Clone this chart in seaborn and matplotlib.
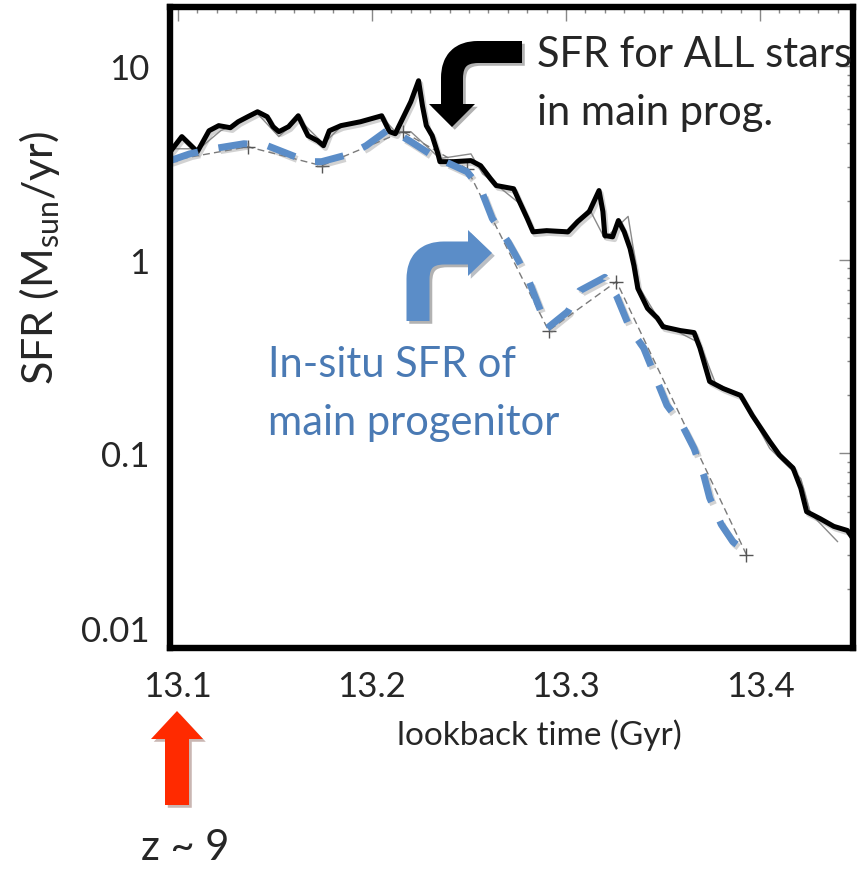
import numpy as np
import pandas as pd
import matplotlib
matplotlib.use("Agg")
import matplotlib.pyplot as plt
import seaborn as sns
from matplotlib import patheffects as pe
from matplotlib.path import Path
from matplotlib.patches import PathPatch, Polygon
from matplotlib.transforms import Affine2D
from matplotlib.ticker import FixedLocator, MultipleLocator, LogLocator, NullFormatter

# ---------------- data ----------------
t_all = [13.096, 13.102, 13.110, 13.116, 13.121, 13.127, 13.131, 13.136, 13.141, 13.146,
         13.149, 13.152, 13.157, 13.162, 13.164, 13.167, 13.172, 13.175, 13.178, 13.184,
         13.194, 13.205, 13.209, 13.212, 13.214, 13.220, 13.224, 13.226, 13.228, 13.231,
         13.234, 13.235, 13.242, 13.251, 13.256, 13.261, 13.264, 13.273, 13.276, 13.280,
         13.283, 13.290, 13.301, 13.306, 13.312, 13.317, 13.319, 13.320, 13.324, 13.327,
         13.330, 13.333, 13.335, 13.337, 13.342, 13.347, 13.350, 13.359, 13.366, 13.369,
         13.374, 13.381, 13.390, 13.396, 13.405, 13.410, 13.417, 13.421, 13.424, 13.431,
         13.438, 13.445, 13.449]
sfr_all = [3.60, 4.31, 3.60, 4.62, 4.91, 4.79, 5.14, 5.46, 5.79, 5.46,
           4.85, 4.57, 4.85, 5.52, 5.02, 4.36, 4.10, 3.87, 4.62, 4.91,
           5.14, 5.52, 4.57, 4.46, 4.91, 6.52, 8.37, 6.22, 4.91, 4.36,
           3.51, 3.20, 3.20, 3.24, 3.05, 2.62, 2.41, 2.32, 1.99, 1.63,
           1.39, 1.41, 1.39, 1.57, 1.77, 2.27, 1.77, 1.33, 1.31, 1.59,
           1.39, 1.14, 0.93, 0.71, 0.56, 0.50, 0.45, 0.43, 0.42, 0.35,
           0.235, 0.216, 0.199, 0.157, 0.115, 0.098, 0.084, 0.066, 0.050, 0.046,
           0.042, 0.040, 0.035]

t_all_raw = [13.096, 13.111, 13.122, 13.141, 13.152, 13.162, 13.175, 13.184, 13.205, 13.212,
             13.220, 13.235, 13.251, 13.257, 13.276, 13.283, 13.301, 13.312, 13.320, 13.332,
             13.338, 13.349, 13.369, 13.377, 13.390, 13.405, 13.421, 13.426, 13.440]
sfr_all_raw = [3.73, 3.73, 4.62, 5.66, 4.31, 5.33, 3.96, 4.85, 5.46, 4.57,
               4.57, 3.32, 3.51, 2.77, 1.95, 1.41, 1.36, 1.83, 1.28, 1.67,
               0.71, 0.47, 0.37, 0.23, 0.20, 0.106, 0.074, 0.049, 0.035]

t_insitu = [13.096, 13.106, 13.118, 13.134, 13.146, 13.159, 13.167, 13.174, 13.189, 13.197,
            13.209, 13.220, 13.232, 13.249, 13.256, 13.262, 13.270, 13.275, 13.281, 13.287,
            13.290, 13.301, 13.307, 13.320, 13.326, 13.333, 13.340, 13.347, 13.352, 13.360,
            13.366, 13.371, 13.374, 13.380, 13.386, 13.393]
sfr_insitu = [3.24, 3.51, 3.73, 3.96, 3.87, 3.44, 3.20, 3.20, 3.51, 3.87,
              4.73, 4.06, 3.40, 2.84, 2.32, 1.63, 1.24, 1.01, 0.77, 0.54,
              0.44, 0.54, 0.69, 0.81, 0.65, 0.44, 0.35, 0.235, 0.177, 0.139,
              0.106, 0.077, 0.059, 0.043, 0.035, 0.031]

t_insitu_raw = [13.096, 13.136, 13.174, 13.216, 13.249, 13.291, 13.326, 13.393]
sfr_insitu_raw = [3.24, 3.82, 3.05, 4.57, 2.94, 0.43, 0.77, 0.030]

x_ticks = [13.1, 13.2, 13.3, 13.4]
x_ticklabels = ["13.1", "13.2", "13.3", "13.4"]
y_ticks = [0.01, 0.1, 1, 10]
y_ticklabels = ["0.01", "0.1", "1", "10"]

# ---------------- style ----------------
sns.set_style("white")
plt.rcParams['font.family'] = ['Lato', 'DejaVu Sans']
plt.rcParams['mathtext.default'] = 'regular'

W, H = 857, 870
fig = plt.figure(figsize=(W / 100, H / 100), dpi=100)
ax = fig.add_axes([170 / W, 1 - 649 / H, (853 - 170) / W, (649 - 8) / H])
ax.set_yscale('log')

BLUE = '#5b8dc8'
BLUE_TEXT = '#4a7ab4'
GRAY = '#8a8a8a'

df_all = pd.DataFrame({'t': t_all, 'sfr': sfr_all})
df_all_raw = pd.DataFrame({'t': t_all_raw, 'sfr': sfr_all_raw})
df_in = pd.DataFrame({'t': t_insitu, 'sfr': sfr_insitu})
df_in_raw = pd.DataFrame({'t': t_insitu_raw, 'sfr': sfr_insitu_raw})

shadow = [pe.SimpleLineShadow(offset=(1.5, -2), shadow_color='gray', alpha=0.35), pe.Normal()]

sns.lineplot(data=df_all_raw, x='t', y='sfr', ax=ax, color=GRAY, lw=1.0,
             sort=False, estimator=None)
sns.lineplot(data=df_in_raw, x='t', y='sfr', ax=ax, color='#7a7a7a', lw=1.0,
             marker='+', markersize=10, markeredgewidth=1.0, markeredgecolor='#555555',
             sort=False, estimator=None)
ax.lines[-1].set_dashes([5, 3])
sns.lineplot(data=df_all, x='t', y='sfr', ax=ax, color='black', lw=3.6,
             sort=False, estimator=None)
ax.lines[-1].set_path_effects(shadow)
ax.lines[-1].set_solid_joinstyle('round')
sns.lineplot(data=df_in, x='t', y='sfr', ax=ax, color=BLUE, lw=5,
             sort=False, estimator=None)
ax.lines[-1].set_dashes([4.2, 3.0])
ax.lines[-1].set_path_effects(shadow)

ax.set_xlim(13.0959, 13.4479)
ax.set_ylim(0.0099, 20.1)
ax.set_xlabel('')
ax.set_ylabel('')

ax.xaxis.set_major_locator(FixedLocator(x_ticks))
ax.set_xticklabels(x_ticklabels)
ax.xaxis.set_minor_locator(MultipleLocator(0.01))
ax.yaxis.set_major_locator(FixedLocator(y_ticks))
ax.set_yticklabels(y_ticklabels)
ax.yaxis.set_minor_locator(LogLocator(base=10, subs=np.arange(2, 10) * 1.0, numticks=20))
ax.yaxis.set_minor_formatter(NullFormatter())

ax.tick_params(which='both', direction='in', top=True, right=True,
               color='#888888', width=1.0)
ax.tick_params(which='major', length=10, labelsize=25)
ax.tick_params(which='minor', length=4)
ax.tick_params(axis='x', which='major', pad=16)
ax.tick_params(axis='y', which='major', pad=15)

for lab in ax.get_yticklabels():
    if lab.get_text() == y_ticklabels[0]:
        lab.set_verticalalignment('bottom')

for s in ax.spines.values():
    s.set_linewidth(4.6)
    s.set_color('black')

# ---------------- annotations ----------------
T = Affine2D().scale(1 / W, -1 / H).translate(0, 1) + fig.transFigure


def bent_arrow(p0, p1, ctrl, p2, p3, head, color, width_px):
    verts = [p0, p1, ctrl, p2, p3]
    codes = [Path.MOVETO, Path.LINETO, Path.CURVE3, Path.CURVE3, Path.LINETO]
    shaft = PathPatch(Path(verts, codes), fill=False, edgecolor=color,
                      lw=width_px * 0.72, capstyle='butt', joinstyle='round',
                      transform=T)
    shaft.set_path_effects([pe.SimpleLineShadow(offset=(2, -2), alpha=0.3), pe.Normal()])
    fig.add_artist(shaft)
    hd = Polygon(head, closed=True, facecolor=color, edgecolor='none', transform=T)
    hd.set_path_effects([pe.SimplePatchShadow(offset=(2, -2), alpha=0.3), pe.Normal()])
    fig.add_artist(hd)


# black arrow (SFR all)
bent_arrow((522, 53), (478, 53), (452, 53), (452, 79), (452, 106),
           [(429, 105), (475, 105), (452, 128)], 'black', 22)
# blue arrow (in-situ)
bent_arrow((418, 322), (418, 280), (418, 254), (444, 254), (469, 254),
           [(468, 231), (468, 277), (492, 254)], BLUE, 23)
# red arrow (z ~ 9)
red = Polygon([(165, 806), (189, 806), (189, 740), (203, 740), (177, 712),
               (151, 740), (165, 740)], closed=True, facecolor='#ff2a00',
              edgecolor='none', transform=T)
red.set_path_effects([pe.SimplePatchShadow(offset=(2, -2), alpha=0.3), pe.Normal()])
fig.add_artist(red)

fig.text(537 / W, 1 - 67 / H, "SFR for ALL stars", fontsize=30, va='baseline', ha='left')
fig.text(537 / W, 1 - 125 / H, "in main prog.", fontsize=30, va='baseline', ha='left')
fig.text(268 / W, 1 - 377 / H, "In-situ SFR of", fontsize=30, va='baseline', ha='left',
         color=BLUE_TEXT)
fig.text(268 / W, 1 - 435 / H, "main progenitor", fontsize=30, va='baseline', ha='left',
         color=BLUE_TEXT)

fig.text(539 / W, 1 - 735 / H, "lookback time (Gyr)", fontsize=24, ha='center', va='center')
fig.text(40 / W, 1 - 258 / H, r"SFR (M$_{sun}$/yr)", fontsize=31, rotation=90,
         ha='center', va='center')
fig.text(185 / W, 1 - 848 / H, "z ~ 9", fontsize=30, ha='center', va='center')

fig.savefig("out.png", dpi=100)
